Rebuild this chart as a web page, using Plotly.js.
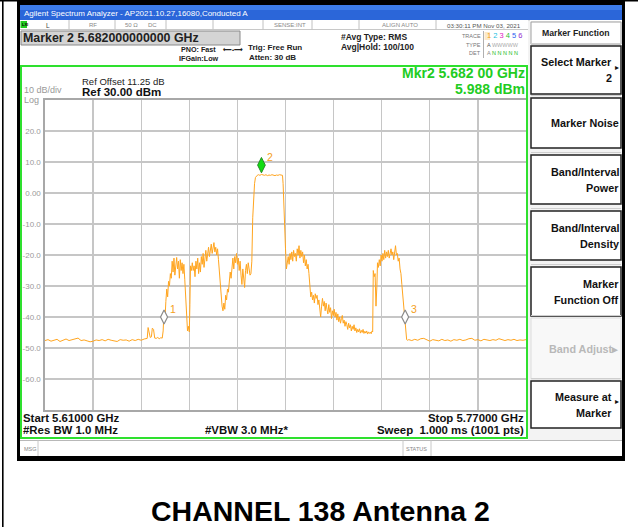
<!DOCTYPE html>
<html>
<head>
<meta charset="utf-8">
<script src="https://cdn.plot.ly/plotly-3.0.1.min.js"></script>
<style>html,body{margin:0;padding:0;background:#fff;}#chart{width:638px;height:527px;}</style>
</head>
<body>
<div id="chart"></div>
<script>
// ---- Sweep data ----
const startGHz = 5.61;
const stopGHz = 5.77;
const sweepOffsetMHz = [
0,1,2,3,4,5,6,7,8,9,10,11,12,13,14,15,16,17,18,19,20,21,22,23,24,25,26,27,28,29,30,31,32,33,34,
34.3,34.7,35.0,35.4,35.7,36.1,36.5,37,37.5,38,38.5,39,
39.3,39.6,39.9,40.2,40.5,40.8,41.1,41.4,41.7,42.0,42.3,42.6,42.9,43.2,43.5,43.8,44.1,44.4,44.7,45.0,45.3,45.6,45.9,46.2,46.5,46.8,
47.1,47.4,47.7,48.0,48.2,48.4,48.7,49.0,49.3,49.6,49.9,50.2,50.5,50.8,51.1,51.4,51.7,52.0,52.3,52.6,52.9,53.2,53.5,53.8,54.1,54.4,54.7,55.0,55.3,55.6,55.9,56.2,56.5,56.8,57.1,57.4,57.7,
58.0,58.3,58.6,58.9,59.2,59.5,59.8,60.1,60.4,60.7,61.0,61.3,61.6,61.9,62.2,62.5,62.8,63.1,63.4,63.7,64.0,64.3,64.6,64.9,65.2,65.5,65.8,66.1,66.4,66.7,67.0,67.3,67.6,67.9,68.2,68.5,68.8,
69.1,69.4,69.7,70.0,70.3,70.6,71.0,71.5,72.0,72.5,73,73.5,74,74.5,75,75.5,76,76.5,77,77.5,78,78.5,79,
79.2,79.4,79.7,80.0,80.3,80.6,80.9,81.2,81.5,81.8,82.1,82.4,82.7,83.0,83.3,83.6,83.9,84.2,84.5,84.8,85.1,85.4,85.7,86.0,86.3,86.6,86.9,87.2,87.5,87.8,88.1,
88.4,88.7,89.0,89.3,89.6,89.9,90.2,90.5,90.8,91.1,91.4,91.7,92.0,92.3,92.6,92.9,93.2,93.5,93.8,94.1,94.4,94.7,95.0,95.3,95.6,95.9,96.2,96.5,96.8,97.1,97.4,97.7,98.0,98.3,98.6,98.9,99.2,99.5,99.8,
100.1,100.4,100.7,101.0,101.3,101.6,101.9,102.2,102.5,102.8,103.1,103.4,103.7,104.0,104.3,104.6,104.9,105.2,105.5,105.8,106.1,106.4,106.7,107.0,107.3,107.6,107.9,108.2,108.5,108.8,109.0,
109.2,109.5,109.8,110.1,110.4,110.6,110.9,111.2,111.5,111.8,112.1,112.4,112.7,113.0,113.3,113.6,113.9,114.2,114.5,114.8,115.1,115.4,115.7,116.0,116.3,116.6,116.9,117.2,117.5,117.8,
118.1,118.4,118.7,119.0,119.3,119.6,119.9,120.1,120.3,120.6,121,122,123,124,125,126,127,128,129,130,131,132,133,134,135,136,137,138,139,140,141,142,143,144,145,146,147,148,149,150,151,152,153,154,155,156,157,158,159,160
];
const levelDbm = [
-47.6,-47.3,-47.8,-47.4,-47.2,-47.9,-47.5,-47.1,-47.6,-47.3,-47.0,-46.8,-47.6,-47.4,-47.7,-48.0,-47.8,-47.4,-47.6,-47.3,-47.7,-47.2,-47.5,-47.6,-47.9,-47.3,-47.5,-47.4,-47.8,-47.3,-47.6,-47.2,-47.5,-47.1,-46.9,
-43.4,-45.5,-46.6,-46.4,-43.6,-44.0,-46.8,-46.9,-46.6,-47.0,-46.7,-46.8,
-44.5,-38.0,-41.0,-35.0,-31.0,-33.5,-28.5,-30.0,-26.0,-27.5,-22.0,-25.5,-21.0,-26.5,-23.0,-20.8,-24.5,-22.0,-27.5,-21.5,-25.0,-22.5,-26.0,-23.0,-28.0,-33.0,
-41.0,-44.5,-43.0,-44.8,-36.0,-23.5,-25.0,-22.5,-25.0,-23.5,-27.0,-22.0,-24.5,-21.0,-26.0,-22.5,-25.5,-20.5,-23.0,-19.5,-24.0,-20.5,-18.5,-22.0,-19.0,-17.5,-20.5,-18.0,-16.5,-19.5,-17.0,-16.0,-19.0,-17.5,-20.0,-18.0,-21.5,
-25.0,-30.0,-34.0,-36.5,-38.0,-35.5,-37.5,-33.0,-34.5,-31.0,-32.0,-28.0,-25.5,-27.5,-23.0,-21.0,-24.5,-20.5,-22.5,-19.5,-23.0,-21.0,-25.0,-22.0,-26.5,-29.5,-24.5,-27.5,-30.5,-25.0,-23.0,-26.0,-22.5,-24.5,-26.5,-26.0,-22.0,
-8.0,-1.0,3.0,5.0,5.6,5.7,5.9,5.7,5.99,5.8,5.7,5.9,5.6,5.8,5.7,5.9,5.8,5.6,5.8,5.7,5.9,5.7,5.7,
3.0,-4.0,-12.0,-18.0,-24.5,-22.0,-20.5,-23.0,-19.5,-21.5,-19.0,-22.0,-18.5,-20.5,-19.5,-22.0,-18.0,-20.0,-17.0,-21.0,-18.5,-20.5,-19.0,-22.5,-20.0,-23.5,-21.5,-24.5,-23.0,-26.0,-31.0,
-33.5,-32.0,-34.5,-33.0,-35.5,-32.5,-34.0,-33.0,-36.0,-34.5,-37.0,-40.0,-36.5,-34.0,-36.5,-35.0,-38.0,-35.5,-37.5,-39.0,-36.0,-38.5,-37.0,-40.5,-38.0,-39.5,-37.5,-40.0,-38.5,-41.0,-39.0,-41.5,-40.0,-42.0,-40.5,-39.5,-42.0,-41.0,-43.0,
-41.5,-42.5,-44.0,-42.0,-43.5,-42.5,-44.5,-43.0,-44.0,-42.5,-44.5,-43.5,-45.0,-44.0,-44.8,-43.8,-45.2,-44.3,-45.0,-44.0,-45.3,-44.6,-45.2,-44.5,-45.5,-44.8,-45.3,-44.9,-45.4,-44.5,-44.8,
-25.0,-27.0,-26.0,-36.5,-30.0,-22.5,-24.0,-21.5,-23.5,-20.0,-22.0,-19.5,-21.5,-18.5,-21.0,-19.0,-20.5,-18.5,-21.0,-19.5,-18.0,-20.0,-19.0,-21.5,-19.0,-17.0,-20.0,-19.5,-22.0,-21.0,
-24.5,-26.0,-29.5,-33.0,-35.0,-38.5,-41.0,-44.5,-47.3,-47.5,-47.3,-47.6,-47.2,-47.5,-47.0,-46.9,-47.4,-47.8,-47.3,-47.5,-47.7,-47.2,-47.6,-47.4,-47.8,-47.3,-47.5,-47.2,-47.6,-47.4,-47.0,-46.9,-47.5,-47.3,-47.7,-47.2,-47.4,-47.6,-47.3,-47.5,-47.0,-47.4,-47.6,-47.3,-47.5,-47.2,-47.6,-47.4,-47.5,-47.3
];

// ---- Markers ----
const markerIds = ['1', '2', '3'];
const markerGHz = [5.6496, 5.682, 5.7298];
const markerDbm = [-43.0, 5.988, -43.0];

// ---- Axis labels ----
const yTickVals = [20, 10, 0, -10, -20, -30, -40, -50, -60];
const yTickText = ['20.0', '10.0', '0.00', '-10.0', '-20.0', '-30.0', '-40.0', '-50.0', '-60.0'];

// ---- Geometry helpers (plot area is 45..526 x 100..410 px) ----
const L = 45, R = 526, T = 100, B = 410;
const px = x => (x - L) / (R - L);
const py = y => (B - y) / (B - T);
const FONT = 'Liberation Sans, Arial, sans-serif';

const shapes = [];
function rect(x0, y0, x1, y1, fill, line, lw, layer) {
  shapes.push({type: 'rect', xref: 'paper', yref: 'paper', x0: px(x0), x1: px(x1), y0: py(y1), y1: py(y0),
    fillcolor: fill || 'rgba(0,0,0,0)', line: {color: line || 'rgba(0,0,0,0)', width: lw || 0}, layer: layer || 'below'});
}
function seg(x0, y0, x1, y1, color, w, layer) {
  shapes.push({type: 'line', xref: 'paper', yref: 'paper', x0: px(x0), x1: px(x1), y0: py(y0), y1: py(y1),
    line: {color: color, width: w}, layer: layer || 'below'});
}
const ann = [];
function txt(text, x, y, size, color, xanchor, extra) {
  ann.push(Object.assign({xref: 'paper', yref: 'paper', x: px(x), y: py(y), text: text, showarrow: false,
    xanchor: xanchor || 'left', yanchor: 'middle', borderpad: 0,
    font: {family: FONT, size: size, color: color || '#000'}}, extra || {}));
}

// outer table cell lines
seg(0, 0.8, 638, 0.8, '#000', 1.6);
seg(2.8, 0, 2.8, 527, '#000', 1.6);
// screenshot frame
rect(17, 0, 625, 461, '#000');
rect(20, 5, 622, 456, '#fff');
// title bar
rect(20, 5, 622, 20, '#2b66d9');
rect(20, 5, 622, 10, '#3d7cea');
txt('Agilent Spectrum Analyzer - AP2021.10.27,16080,Conducted A', 23, 13.5, 8, '#fff');
// status row
seg(20, 29.5, 530, 29.5, '#c8c8c8', 1);
[69, 115, 166, 213, 263, 312, 359, 436, 529].forEach(x => seg(x, 20, x, 29.5, '#c0c0c0', 1));
rect(20.5, 21, 27, 28, '#22cc22');
txt('<b>LXI</b>', 20.5, 24.5, 4, '#000');
txt('L', 45, 25, 6.5, '#444');
txt('RF', 88, 25, 6, '#888');
txt('50 Ω', 124, 25, 6, '#888');
txt('DC', 147, 25, 6, '#888');
txt('SENSE:INT', 290, 25, 6, '#888', 'center');
txt('ALIGN AUTO', 400, 25, 6, '#888', 'center');
txt('03:30:11 PM Nov 03, 2021', 484, 25, 6.2, '#555', 'center');
// marker readout box
rect(21, 31, 240, 45, '#d4d4d4', '#8a8a8a', 1);
txt('<b>Marker 2 5.682000000000 GHz</b>', 22, 38.5, 12.4, '#222');
txt('<b>PNO: Fast</b>', 217, 50, 7.2, '#222', 'right');
txt('<b>⟵•⟶</b>', 222, 50, 6, '#222');
txt('<b>IFGain:Low</b>', 178, 59, 7.2, '#222');
txt('<b>Trig: Free Run</b>', 247, 47, 8, '#222');
txt('<b>Atten: 30 dB</b>', 248, 57, 8, '#222');
txt('<b>#Avg Type: RMS</b>', 340, 37, 8.5, '#222');
txt('<b>Avg|Hold: 100/100</b>', 340, 47, 8.5, '#222');
seg(483.5, 31, 483.5, 58, '#b0b0b0', 1);
txt('TRACE', 482, 36, 5.5, '#777', 'right');
txt('TYPE', 482, 44.5, 5.5, '#777', 'right');
txt('DET', 482, 53, 5.5, '#777', 'right');
rect(484.5, 32, 490, 40, '#fde9c8');
txt('<span style="color:#f0a020">1</span> <span style="color:#20c0e0">2</span> <span style="color:#e020c0">3</span> <span style="color:#30c030">4</span> <span style="color:#3060f0">5</span> <span style="color:#9030d0">6</span>', 485.5, 36, 7.5, '#000');
txt('A <span style="color:#aaa">WWWWW</span>', 485.5, 44.5, 5.5, '#555');
txt('A <span style="color:#22bb22">N N N N N</span>', 485.5, 53, 5.5, '#888');

// main display frame
rect(21, 66, 527, 438, 'rgba(0,0,0,0)', '#2ee02e', 2, 'above');
txt('Ref Offset 11.25 dB', 81, 81, 9.5, '#222');
txt('<b>Ref 30.00 dBm</b>', 81, 91.5, 11.5, '#111');
txt('10 dB/div', 23, 90.5, 9, '#999');
txt('Log', 23, 100.5, 9, '#999');
txt('<b>Mkr2 5.682 00 GHz</b>', 526, 72.5, 14, '#22cc22', 'right');
txt('<b>5.988 dBm</b>', 526, 88.5, 14, '#22cc22', 'right');
txt('<b>Start 5.61000 GHz</b>', 22, 418, 11.4, '#111');
txt('<b>#Res BW 1.0 MHz</b>', 22, 430, 11.4, '#111');
txt('<b>#VBW 3.0 MHz*</b>', 204, 430, 11.4, '#111');
txt('<b>Stop 5.77000 GHz</b>', 525, 418, 11.4, '#111', 'right');
txt('<b>Sweep  1.000 ms (1001 pts)</b>', 525, 430, 11.4, '#111', 'right');
// message row
seg(20, 440.5, 622, 440.5, '#b8b8b8', 1);
[38, 403, 431].forEach(x => seg(x, 440.5, x, 456, '#c8c8c8', 1));
txt('MSG', 23, 448.5, 5.5, '#888');
txt('STATUS', 404.5, 448.5, 5.5, '#888');

// softkey panel
rect(528, 21, 622, 440, '#f3f3f3');
rect(531, 22, 621, 44, '#fff', '#a0a0a0', 1);
txt('<b>Marker Function</b>', 576, 33, 8.7, '#222', 'center');
const keys = [
  [46, 94, ['Select Marker', '2'], true, false],
  [98, 148, ['Marker Noise'], false, false],
  [155, 204, ['Band/Interval', 'Power'], false, false],
  [211, 260, ['Band/Interval', 'Density'], false, false],
  [267, 316, ['Marker', 'Function Off'], false, false],
  [318, 379, ['Band Adjust▸'], false, true],
  [381, 428, ['Measure at', 'Marker'], true, false]
];
keys.forEach(k => {
  const [y0, y1, lines, arrow, disabled] = k;
  if (disabled) rect(531, y0, 621, y1, '#f8f8f8', '#dcdcdc', 1);
  else rect(531, y0, 621, y1, '#fff', '#222', 1.5);
  seg(531, y0 - 2.5, 621, y0 - 2.5, '#cfcfcf', 1);
  const cy = (y0 + y1) / 2;
  const color = disabled ? '#b8b8b8' : '#111';
  const xr = arrow ? 613 : 620;
  if (lines.length === 1) txt('<b>' + lines[0] + '</b>', disabled ? 619 : xr, cy, 10.8, color, 'right');
  else { txt('<b>' + lines[0] + '</b>', xr, cy - 8, 10.8, color, 'right'); txt('<b>' + lines[1] + '</b>', xr, cy + 8, 10.8, color, 'right'); }
  if (arrow) txt('▸', 614, cy - 3, 8, '#111');
});

// caption
txt('<b>CHANNEL 138 Antenna 2</b>', 320, 511, 28.5, '#000', 'center');

// marker number labels (attached to marker data)
markerIds.forEach((id, i) => {
  ann.push({xref: 'x', yref: 'y', x: markerGHz[i], y: markerDbm[i] + 3, text: id, showarrow: false,
    xanchor: 'left', yanchor: 'middle', xshift: 5, yshift: 8, borderpad: 0,
    font: {family: FONT, size: 10.5, color: '#f5a020'}});
});

const freqGHz = sweepOffsetMHz.map(m => startGHz + m / 1000);
const traces = [
  {x: freqGHz, y: levelDbm, type: 'scatter', mode: 'lines', line: {color: '#ffa51f', width: 1}, hoverinfo: 'skip'},
  {x: markerGHz.filter((_, i) => i !== 1), y: markerDbm.filter((_, i) => i !== 1).map(v => v + 3), type: 'scatter', mode: 'markers',
   marker: {symbol: 'diamond-tall', size: 10, color: '#fff', line: {color: '#8a8a8a', width: 1.2}}, hoverinfo: 'skip'},
  {x: [markerGHz[1]], y: [markerDbm[1] + 3], type: 'scatter', mode: 'markers',
   marker: {symbol: 'diamond-tall', size: 11, color: '#11dd11', line: {color: '#2a8a2a', width: 1}}, hoverinfo: 'skip'}
];

const layout = {
  width: 638, height: 527,
  margin: {l: L, r: 638 - R, t: T, b: 527 - B, pad: 0},
  paper_bgcolor: '#fff', plot_bgcolor: 'rgba(0,0,0,0)',
  showlegend: false,
  xaxis: {range: [startGHz, stopGHz], tick0: startGHz, dtick: 0.016, showticklabels: false, ticks: '',
    showgrid: true, gridcolor: '#c6c6c6', gridwidth: 1.3, zeroline: false,
    showline: true, mirror: true, linecolor: '#a8a8a8', linewidth: 1.6},
  yaxis: {range: [-70, 30], tickmode: 'array', tickvals: yTickVals, ticktext: yTickText, ticks: '',
    tickfont: {family: FONT, size: 8, color: '#9a9a9a'}, ticklabelstandoff: 1,
    showgrid: true, gridcolor: '#c6c6c6', gridwidth: 1.3, zeroline: false,
    showline: true, mirror: true, linecolor: '#a8a8a8', linewidth: 1.6},
  shapes: shapes,
  annotations: ann
};

Plotly.newPlot('chart', traces, layout, {staticPlot: true, displayModeBar: false});
</script>
</body>
</html>
